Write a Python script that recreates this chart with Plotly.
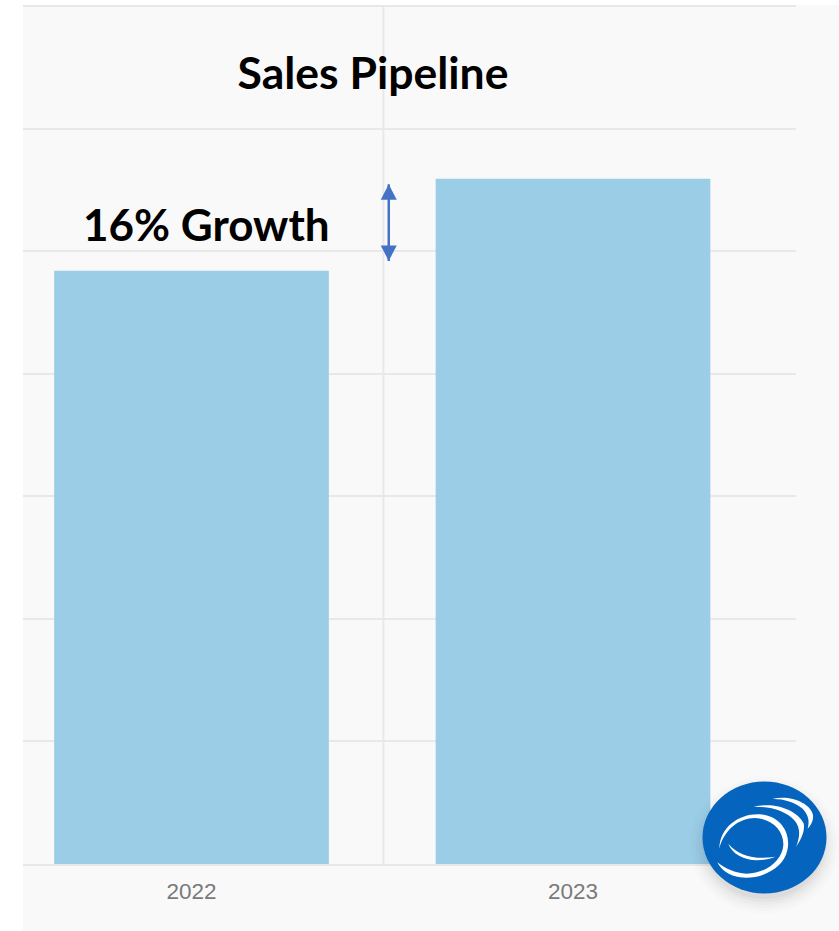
import re
import plotly.graph_objects as go

WIDTH, HEIGHT = 839, 931
LEFT, RIGHT, TOP, BOTTOM = 23, 796, 6, 864
Y_MAX = 140

years = ["2022", "2023"]
year_positions = [0, 1]
pipeline = [96.8, 111.8]
growth_label = "16% Growth"
chart_title = "Sales Pipeline"
arrow_span = [110.9, 98.4]

BAR_COLOR = "#9CCDE7"
GRID_COLOR = "#E8E8E8"
PANEL_COLOR = "#F9F9F9"
ARROW_COLOR = "#4472C4"
BADGE_COLOR = "#0565BE"

ARROW_X = 0.517
HEAD_LENGTH = 15.5
HEAD_HALF_WIDTH = 8


def py(y):
    return (BOTTOM - y) / (BOTTOM - TOP)


def pxx(x):
    return (x - LEFT) / (RIGHT - LEFT)


def badge_path(spec):
    # Badge artwork is authored on a 3x grid anchored at (640, 740).
    tokens = re.findall(r"[A-Za-z]|-?\d+\.?\d*", spec)
    out, is_x = [], True
    for t in tokens:
        if t.isalpha():
            out.append(t)
            is_x = True
        else:
            v = float(t)
            if is_x:
                out.append(f"{pxx(640 + v / 3):.5f}")
            else:
                out.append(f"{py(740 + v / 3):.5f}")
            is_x = not is_x
    return " ".join(out)


def page_rect(x0, y0, x1, y1, **kw):
    return dict(xref="paper", yref="paper", x0=pxx(x0), x1=pxx(x1), y0=py(y0), y1=py(y1), **kw)


def arrow_head(value, direction):
    # Triangle whose tip sits on the given value; direction is -1 for up, +1 for down.
    tip_y = BOTTOM - value / Y_MAX * (BOTTOM - TOP)
    base_y = tip_y - direction * HEAD_LENGTH
    cx = 191.5 + ARROW_X * 381.5
    path = (
        f"M {pxx(cx):.5f} {py(tip_y):.5f} "
        f"L {pxx(cx - HEAD_HALF_WIDTH):.5f} {py(base_y):.5f} "
        f"L {pxx(cx + HEAD_HALF_WIDTH):.5f} {py(base_y):.5f} Z"
    )
    return dict(type="path", xref="paper", yref="paper", path=path,
                fillcolor=ARROW_COLOR, line=dict(width=0))


fig = go.Figure()

fig.add_bar(
    x=year_positions,
    y=pipeline,
    width=0.72,
    marker=dict(color=BAR_COLOR, line=dict(width=0)),
    hoverinfo="y",
)

# Shaft of the double-headed arrow showing the gap between the two years
fig.add_scatter(
    x=[ARROW_X, ARROW_X],
    y=arrow_span,
    mode="lines",
    line=dict(color=ARROW_COLOR, width=2.5),
    hoverinfo="skip",
)

shapes = [
    # Panel behind the chart
    page_rect(23, 5, 839, 931, type="rect", fillcolor=PANEL_COLOR, line=dict(width=0), layer="below"),
    # Divider between the two categories
    dict(type="line", xref="x", yref="paper", x0=0.503, x1=0.503, y0=0, y1=1,
         line=dict(color=GRID_COLOR, width=2), layer="below"),
    # Rule along the top edge of the plot
    dict(type="line", xref="paper", yref="paper", x0=0, x1=1, y0=1, y1=1,
         line=dict(color=GRID_COLOR, width=2), layer="below"),
    arrow_head(arrow_span[0], -1),
    arrow_head(arrow_span[1], 1),
]

# Soft shadow under the badge
for grow, alpha in [(15, 0.008), (12, 0.012), (9, 0.016), (6, 0.02), (3, 0.026), (0, 0.03)]:
    shapes.append(page_rect(764.5 - 60 - grow, 845 - 54 - grow, 764.5 + 60 + grow, 845 + 54 + grow,
                            type="circle", fillcolor=f"rgba(0,0,0,{alpha})", line=dict(width=0)))

shapes.append(page_rect(702.5, 781.5, 826.5, 893.5, type="circle", fillcolor=BADGE_COLOR, line=dict(width=0)))

badge_swooshes = [
    "M 238 326 C 240 260 298 220 360 223 C 422 227 454 280 442 331 C 431 386 362 420 300 412 "
    "C 269 408 244 391 232 367 C 255 385 285 400 320 401 C 379 401 428 359 430 315 "
    "C 432 271 394 236 345 234 C 296 234 251 271 238 326 Z",
    "M 265 311 C 279 351 340 376 406 350 C 350 360 296 349 265 311 Z",
    "M 341 201 C 400 184 471 209 491 250 C 496 275 481 301 468 321 C 480 290 483 265 463 241 "
    "C 438 213 390 198 341 201 Z",
    "M 397 177 C 450 164 511 189 519 225 C 521 240 513 256 503 266 C 508 245 508 228 488 206 "
    "C 463 186 430 176 397 177 Z",
]
for spec in badge_swooshes:
    shapes.append(dict(type="path", xref="paper", yref="paper", path=badge_path(spec),
                       fillcolor="white", line=dict(width=0)))

fig.update_layout(
    width=WIDTH,
    height=HEIGHT,
    autosize=False,
    margin=dict(l=LEFT, r=WIDTH - RIGHT, t=TOP, b=HEIGHT - BOTTOM, pad=0),
    paper_bgcolor="white",
    plot_bgcolor="rgba(0,0,0,0)",
    showlegend=False,
    shapes=shapes,
    title=dict(
        text=f"<b>{chart_title}</b>",
        x=373 / WIDTH,
        xanchor="center",
        y=1 - 73 / HEIGHT,
        yanchor="middle",
        font=dict(family="Lato", size=44.5, color="black"),
    ),
    annotations=[
        dict(
            text=f"<b>{growth_label}</b>",
            xref="paper", yref="paper",
            x=pxx(206.5), y=py(224),
            xanchor="center", yanchor="middle",
            showarrow=False,
            font=dict(family="Lato", size=44, color="black"),
        )
    ],
    xaxis=dict(
        range=[-0.4417, 1.5845],
        tickmode="array",
        tickvals=year_positions,
        ticktext=years,
        showgrid=False,
        zeroline=False,
        showline=True,
        linecolor=GRID_COLOR,
        linewidth=2,
        ticks="outside",
        ticklen=6,
        tickcolor="rgba(0,0,0,0)",
        tickfont=dict(family="Liberation Sans", size=22.5, color="#7A7A7A"),
    ),
    yaxis=dict(
        range=[0, Y_MAX],
        dtick=20,
        showticklabels=False,
        showgrid=True,
        gridcolor=GRID_COLOR,
        gridwidth=2,
        zeroline=False,
    ),
)

fig.write_html("out.html")
